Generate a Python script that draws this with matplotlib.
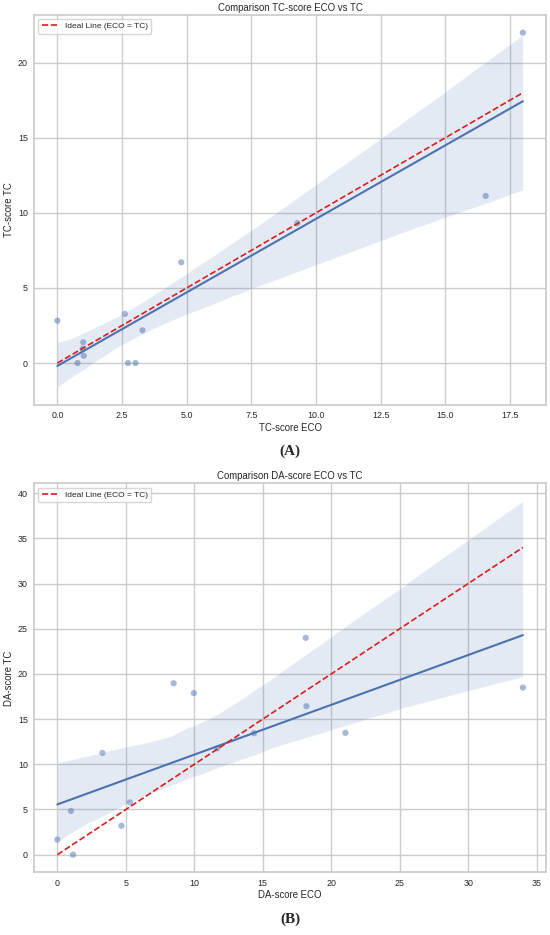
import numpy as np
import matplotlib
matplotlib.use("Agg")
import matplotlib.pyplot as plt
import seaborn as sns

# TC-score (panel A)
tc_eco = [0.0, 2.61, 3.29, 1.0, 0.98, 1.02, 0.78, 2.73, 3.02, 4.79, 9.28, 16.56, 18.0]
tc_tc = [2.82, 3.27, 2.18, 1.38, 0.95, 0.49, 0.0, 0.0, 0.0, 6.71, 9.31, 11.13, 22.0]

# DA-score (panel B)
da_eco = [0.0, 0.99, 1.14, 4.68, 5.3, 3.29, 8.49, 9.97, 11.67, 14.36, 18.14, 18.19, 21.04, 34.0]
da_tc = [1.67, 4.84, 0.0, 3.2, 5.79, 11.26, 18.97, 17.88, 11.76, 13.44, 24.0, 16.43, 13.48, 18.5]

sns.set_theme(style="whitegrid")
plt.rcParams['font.family'] = ['Liberation Sans', 'DejaVu Sans']

fig = plt.figure(figsize=(5.5, 9.35), dpi=100)
ax1 = fig.add_axes([0.062, 0.567, 0.931, 0.417])
ax2 = fig.add_axes([0.062, 0.067, 0.931, 0.416])


def panel(ax, x, y, name, tag):
    sns.regplot(x=x, y=y, ax=ax, ci=95, seed=3,
                scatter_kws={'alpha': 0.5, 's': 20, 'edgecolor': 'none'},
                line_kws={'linewidth': 1.5})
    lo, hi = min(x), max(x)
    ax.plot([lo, hi], [lo, hi], linestyle='--', color='#d81e1e', linewidth=1.2,
            label='Ideal Line (ECO = TC)')
    ax.set_title(f'Comparison {name}-score ECO vs TC', fontsize=6.9, pad=3)
    ax.set_xlabel(f'{name}-score ECO', fontsize=6.9, labelpad=2)
    ax.set_ylabel(f'{name}-score TC', fontsize=6.9, labelpad=3)
    ax.tick_params(labelsize=6.4, length=0, pad=4.5)
    ax.legend(loc='upper left', fontsize=6, frameon=True, handlelength=2)
    ax.text(0.5, -0.12, tag, transform=ax.transAxes, ha='center', va='center',
            fontsize=11, fontweight='bold', family='Liberation Serif')


panel(ax1, tc_eco, tc_tc, 'TC', '(A)')
panel(ax2, da_eco, da_tc, 'DA', '(B)')

fig.savefig('out.png', dpi=100)
